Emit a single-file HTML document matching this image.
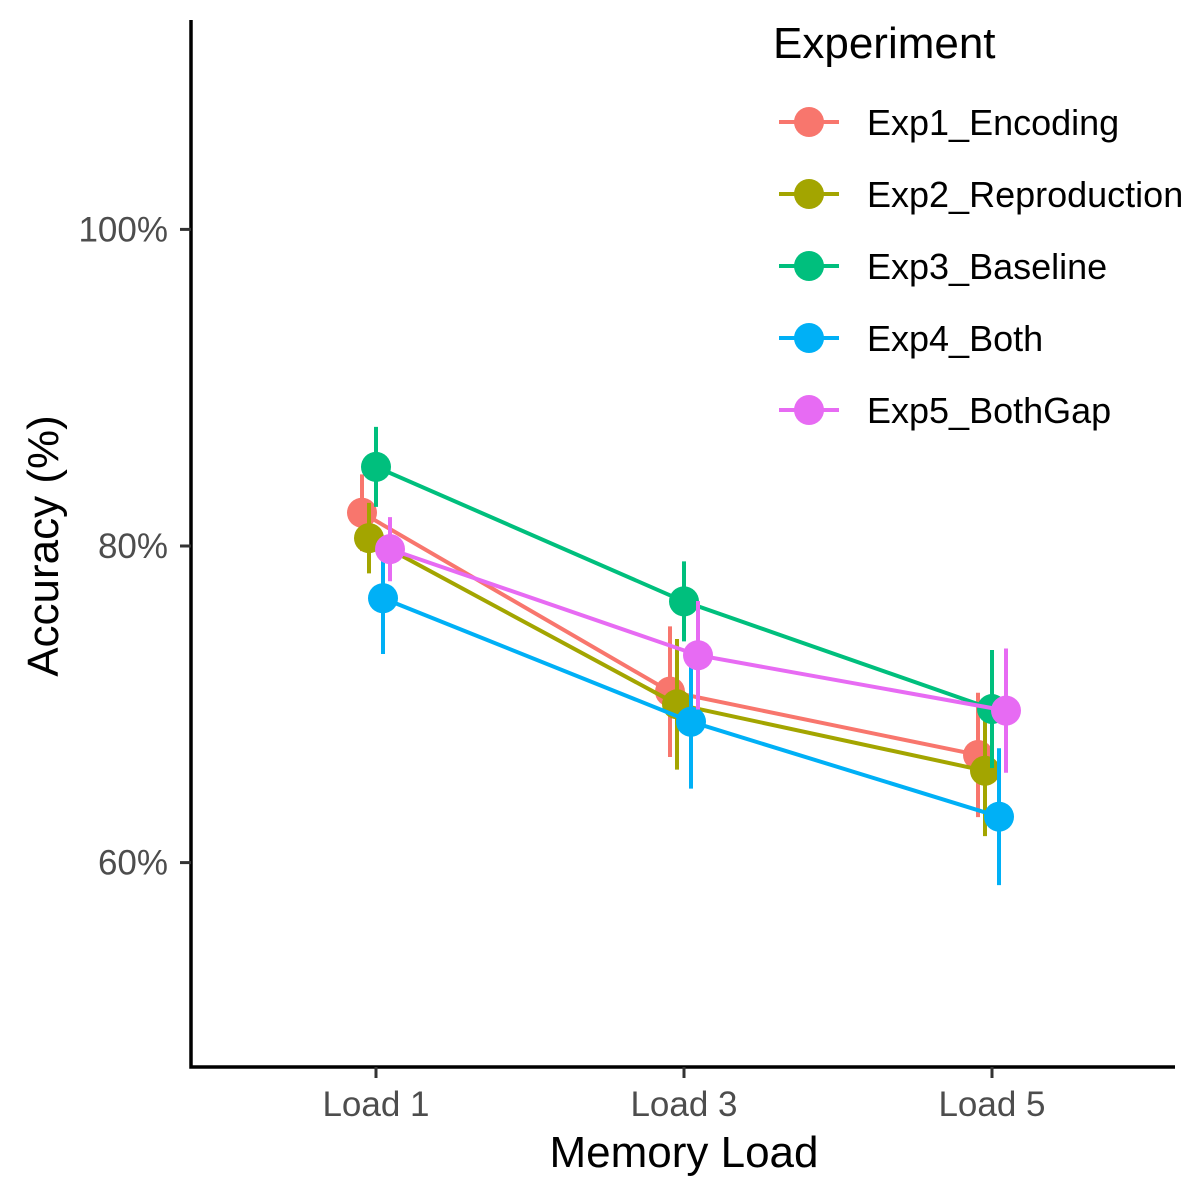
<!DOCTYPE html>
<html><head><meta charset="utf-8"><style>
body{margin:0;background:#fff}
svg{display:block;font-family:"Liberation Sans",Arial,sans-serif}
</style></head><body>
<svg id="chart" width="1200" height="1200" viewBox="0 0 1200 1200">
<g id="plot"></g>
<g id="axes"></g>
<g id="legend"></g>
</svg>
<script>
const categories = ["Load 1","Load 3","Load 5"];
const seriesNames = ["Exp1_Encoding","Exp2_Reproduction","Exp3_Baseline","Exp4_Both","Exp5_BothGap"];
const exp1 = [82.1, 70.8, 66.8];
const exp2 = [80.5, 70.0, 65.8];
const exp3 = [85.0, 76.5, 69.7];
const exp4 = [76.7, 68.9, 62.9];
const exp5 = [79.8, 73.1, 69.6];
const err1 = [2.3, 4.0, 3.8];
const err2 = [2.1, 4.0, 4.0];
const err3 = [2.4, 2.4, 3.6];
const err4 = [3.4, 4.1, 4.2];
const err5 = [1.9, 3.3, 3.8];
const yTicks = [60, 80, 100];
const yTickLabels = ["60%","80%","100%"];

const values = [exp1,exp2,exp3,exp4,exp5];
const errs = [err1,err2,err3,err4,err5];
const colors = ["#F8766D","#A3A500","#00BF7D","#00B0F6","#E76BF3"];
const NS="http://www.w3.org/2000/svg";
function y(v){return 546-(v-80)*15.83;}
function x(i){return 376+i*308;}
function dodge(s){return (s-2)*7;}
function mk(tag,attrs,parent,text){const e=document.createElementNS(NS,tag);for(const k in attrs)e.setAttribute(k,attrs[k]);if(text!==undefined)e.textContent=text;parent.appendChild(e);return e;}
const plot=document.getElementById('plot'),axes=document.getElementById('axes'),legend=document.getElementById('legend');

values.forEach((vals,s)=>{
  const g=mk('g',{},plot);
  
  
  vals.forEach((v,i)=>{
    const cx=x(i)+dodge(s),e=errs[s][i];
    const eb=mk('path',{d:`M${cx-2} ${y(v+e)}H${cx+2}M${cx} ${y(v+e)}V${y(v-e)}M${cx-2} ${y(v-e)}H${cx+2}`,stroke:colors[s],'stroke-width':4,fill:'none'},g);
    
    
  });
  const pts=vals.map((v,i)=>`${x(i)+dodge(s)},${y(v)}`).join(' ');
  const ln=mk('polyline',{points:pts,stroke:colors[s],'stroke-width':4,fill:'none'},g);
  
  
  vals.forEach((v,i)=>{
    const c=mk('circle',{cx:x(i)+dodge(s),cy:y(v),r:15,fill:colors[s]},g);
    
    
  });
});

let a=mk('path',{d:'M191 20V1067H1175',stroke:'#000','stroke-width':3.5,fill:'none'},axes);


yTicks.forEach((t,i)=>{
  const tk=mk('line',{x1:180,x2:191,y1:y(t),y2:y(t),stroke:'#333','stroke-width':3},axes);
  
  
  const tl=mk('text',{x:168,y:y(t)+12,'text-anchor':'end','font-size':35,fill:'#4D4D4D'},axes,yTickLabels[i]);
  
  
});
categories.forEach((c,i)=>{
  const tk=mk('line',{x1:x(i),x2:x(i),y1:1067,y2:1078,stroke:'#333','stroke-width':3},axes);
  
  
  const tl=mk('text',{x:x(i),y:1116,'text-anchor':'middle','font-size':35,fill:'#4D4D4D'},axes,c);
  
  
});
let xt=mk('text',{x:684,y:1167,'text-anchor':'middle','font-size':44,fill:'#000'},axes,'Memory Load');


let yt=mk('text',{x:0,y:0,transform:'translate(58,546) rotate(-90)','text-anchor':'middle','font-size':44,fill:'#000'},axes,'Accuracy (%)');



let lt=mk('text',{x:773,y:58,'font-size':44,fill:'#000'},legend,'Experiment');


seriesNames.forEach((n,s)=>{
  const cy=122+s*72;
  const g=mk('g',{},legend);
  
  
  mk('line',{x1:779,x2:839,y1:cy,y2:cy,stroke:colors[s],'stroke-width':4},g);
  mk('circle',{cx:809,cy:cy,r:15,fill:colors[s]},g);
  mk('text',{x:867,y:cy+13,'font-size':36,fill:'#000'},g,n);
});
</script>
</body></html>
